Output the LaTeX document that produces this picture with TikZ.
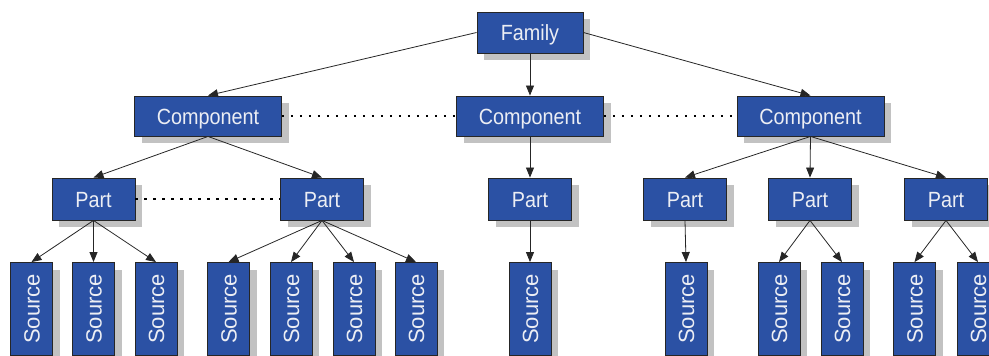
\documentclass[tikz,border=0pt]{standalone}
\usepackage{fontspec}
\setmainfont{Liberation Sans}
\newfontfamily\boxfont[FakeStretch=0.9]{Liberation Sans}
\usetikzlibrary{arrows.meta,shadows}
\definecolor{boxblue}{HTML}{2B51A4}
\definecolor{shadowgray}{HTML}{C2C2C2}
\definecolor{textwhite}{HTML}{ECEEF4}
\tikzset{
  box/.style={draw=black!85, line width=0.9pt, fill=boxblue, inner sep=0pt,
    text=textwhite, font=\boxfont\fontsize{22}{24}\selectfont,
    text height=16pt, text depth=0pt,
    drop shadow={shadow xshift=7pt, shadow yshift=-7pt, fill=shadowgray, opacity=1}},
  familybox/.style={box, minimum width=106pt, minimum height=41pt},
  compbox/.style={box, minimum width=147pt, minimum height=40pt},
  partbox/.style={box, minimum width=83pt, minimum height=42pt},
  srcbox/.style={box, minimum width=42pt, minimum height=93pt,
    label={[rotate=90, text=textwhite, font=\fontsize{22}{24}\selectfont,
            text height=16pt, text depth=0pt, inner sep=0pt]center:Source}},
  link/.style={draw=black!85, line width=0.8pt, -{Triangle[length=10pt,width=8pt]}},
  peer/.style={draw=black, line width=2pt, dash pattern=on 2.5pt off 6.5pt}
}
\begin{document}
\begin{tikzpicture}[x=1pt, y=-1pt]
\useasboundingbox (0,0) rectangle (989,356);

% family and components
\node[familybox] (fam) at (530,32.5) {Family};
\node[compbox] (c1) at (208,116) {Component};
\node[compbox] (c2) at (530,116) {Component};
\node[compbox] (c3) at (810.5,116) {Component};

% parts
\node[partbox] (p1) at (93.5,199) {Part};
\node[partbox] (p2) at (322,199) {Part};
\node[partbox] (p3) at (530,199) {Part};
\node[partbox] (p4) at (685,199) {Part};
\node[partbox] (p5) at (810,199) {Part};
\node[partbox] (p6) at (946,199) {Part};

% sources
\foreach \n/\x in {s1/31.5, s2/93.5, s3/156, s4/228.5, s5/291, s6/354, s7/416,
                   s8/530, s9/686, s10/779, s11/842, s12/914.5, s13/978}
  \node[srcbox] (\n) at (\x,309) {};

% hierarchy links
\draw[link] (fam.west) -- (c1.north);
\draw[link] (fam.south) -- (c2.north);
\draw[link] (fam.east) -- (c3.north);

\draw[link] (c1.south) -- (p1.north);
\draw[link] (c1.south) -- (p2.north);
\draw[link] (c2.south) -- (p3.north);
\draw[link] (c3.south) -- (p4.north);
\draw[link] (c3.south) -- (p5.north);
\draw[link] (c3.south) -- (p6.north);

\foreach \s in {s1,s2,s3} \draw[link] (p1.south) -- (\s.north);
\foreach \s in {s4,s5,s6,s7} \draw[link] (p2.south) -- (\s.north);
\draw[link] (p3.south) -- (s8.north);
\draw[link] (p4.south) -- (s9.north);
\foreach \s in {s10,s11} \draw[link] (p5.south) -- (\s.north);
\foreach \s in {s12,s13} \draw[link] (p6.south) -- (\s.north);

% peer relations
\draw[peer] (c1.east) -- (c2.west);
\draw[peer] (c2.east) -- (c3.west);
\draw[peer] (p1.east) -- (p2.west);
\end{tikzpicture}
\end{document}
